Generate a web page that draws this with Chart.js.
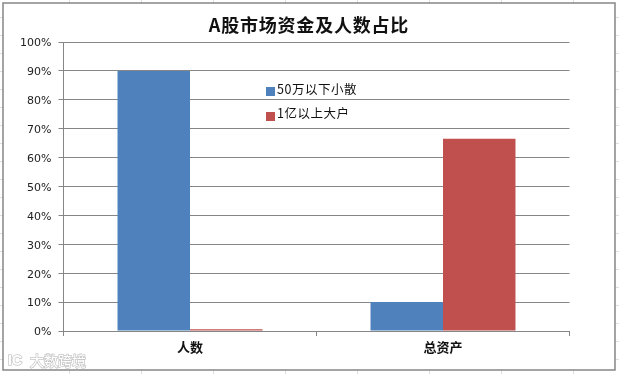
<!DOCTYPE html>
<html>
<head>
<meta charset="utf-8">
<script src="https://cdn.jsdelivr.net/npm/chart.js@4"></script>
<style>
    html, body { margin: 0; padding: 0; background: #fff; }
    #wrap { position: relative; width: 619px; height: 374px; overflow: hidden; }
</style>
</head>
<body>
<div id="wrap"><canvas id="shareChart" width="619" height="374"></canvas></div>
<script>
// --- Data ---
const categories = ['人数', '总资产'];
const smallInvestors = [90, 10];
const bigInvestors = [0.6, 66.5];
const seriesNames = ['50万以下小散', '1亿以上大户'];
const chartTitle = 'A股市场资金及人数占比';
const watermark = '大数跨境';

const cjkFont = '"Noto Sans CJK SC", "Liberation Sans", sans-serif';
const lineGrey = '#868686';

// spreadsheet cells behind the chart, frame, title, legend and watermark
const sheetPlugin = {
    id: 'sheet',
    beforeDraw(chart) {
        const c = chart.ctx;
        c.save();
        c.strokeStyle = '#dedede';
        c.lineWidth = 1;
        c.beginPath();
        for (let x = 69.5; x < 619; x += 72) { c.moveTo(x, 0); c.lineTo(x, 374); }
        for (let y = 17.5; y < 374; y += 18) { c.moveTo(0, y); c.lineTo(619, y); }
        c.stroke();
        c.fillStyle = '#fff';
        c.fillRect(3, 3, 612, 367);
        c.strokeStyle = lineGrey;
        c.lineWidth = 1.5;
        c.strokeRect(3, 3, 612, 367);
        c.restore();
    },
    afterDraw(chart) {
        const c = chart.ctx;
        c.save();
        c.textBaseline = 'middle';
        c.textAlign = 'center';
        c.fillStyle = '#111';
        c.font = 'bold 18px ' + cjkFont;
        c.letterSpacing = '0.8px';
        c.fillText(chartTitle, 309, 25);
        c.textAlign = 'left';
        const textRows = [89, 113];
        const swatchTops = [87, 112];
        chart.data.datasets.forEach((ds, i) => {
            c.fillStyle = ds.backgroundColor;
            c.fillRect(266, swatchTops[i], 9, 9);
            c.fillStyle = '#111';
            c.font = '12.5px ' + cjkFont;
            c.letterSpacing = '0.5px';
            c.fillText(ds.label, 277, textRows[i]);
        });
        c.letterSpacing = '0px';
        c.font = '14px ' + cjkFont;
        c.lineWidth = 1.5;
        c.strokeStyle = 'rgba(185,185,185,0.8)';
        c.fillStyle = '#fff';
        c.strokeText(watermark, 30, 361);
        c.fillText(watermark, 30, 361);
        c.font = 'bold 14px "Liberation Sans", sans-serif';
        c.strokeText('IC', 8, 361);
        c.fillText('IC', 8, 361);
        c.restore();
    }
};

new Chart(document.getElementById('shareChart').getContext('2d'), {
    type: 'bar',
    data: {
        labels: categories,
        datasets: [
            { label: seriesNames[0], data: smallInvestors, backgroundColor: '#4f81bd', categoryPercentage: 0.573, barPercentage: 1 },
            { label: seriesNames[1], data: bigInvestors, backgroundColor: '#c0504d', categoryPercentage: 0.573, barPercentage: 1 }
        ]
    },
    options: {
        responsive: false,
        animation: false,
        layout: { padding: { left: 0, right: 49.5, top: 42, bottom: 0 } },
        plugins: {
            legend: { display: false },
            tooltip: { enabled: false },
            title: { display: false }
        },
        scales: {
            x: {
                grid: { display: true, drawOnChartArea: false, color: lineGrey, tickLength: 5, offset: true },
                border: { color: lineGrey },
                ticks: { color: '#111', padding: 3, font: { family: cjkFont, size: 13, weight: 'bold' } },
                afterFit(scale) { scale.height = 43; }
            },
            y: {
                min: 0,
                max: 100,
                grid: { color: lineGrey, tickLength: 5 },
                border: { color: lineGrey },
                ticks: {
                    stepSize: 10,
                    color: '#222',
                    padding: 7,
                    labelOffset: 1.5,
                    font: { family: '"DejaVu Sans", sans-serif', size: 11 },
                    callback: (v) => v + '%'
                },
                afterFit(scale) { scale.width = 63.5; }
            }
        }
    },
    plugins: [sheetPlugin]
});
</script>
</body>
</html>
